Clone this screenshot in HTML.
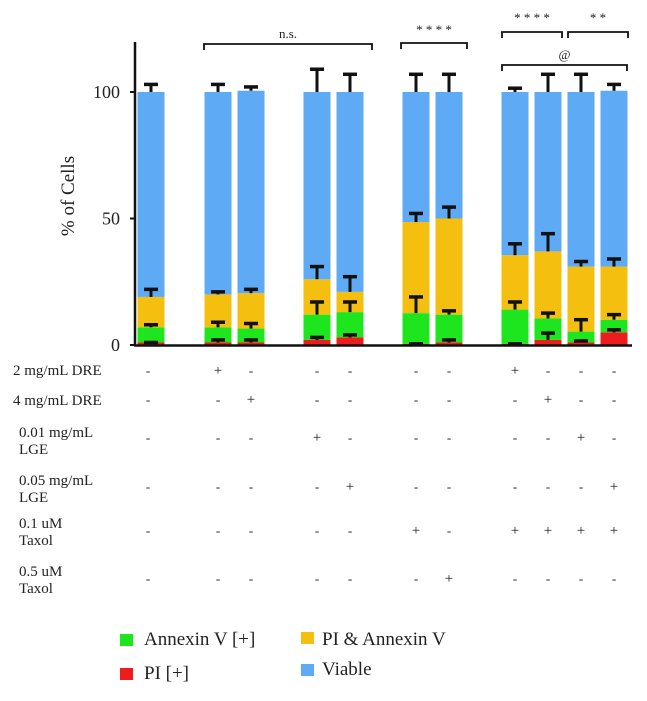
<!DOCTYPE html>
<html><head><meta charset="utf-8"><style>
body{margin:0;background:#fff;}
svg text{font-family:"Liberation Serif",serif;fill:#222;}
</style></head><body>
<svg id="chart" width="647" height="696" viewBox="0 0 647 696" xmlns="http://www.w3.org/2000/svg">
<g id="bars"></g>
<g id="axes"></g>
<g id="table"></g>
<g id="legend"></g>
</svg>
<script>
// data: cumulative tops of stacked segments (red, green, orange, blue) and error tops
const categories=["ctrl","dre2","dre4","lge001","lge005","tax01","tax05","dre2tax","dre4tax","lge001tax","lge005tax"];
const redTop=[1,1,1,2,3,0.5,1,0.5,2,1,5];
const greenTop=[7,7,6.5,12,13,12.6,12,14,10.5,5.3,10];
const orangeTop=[19,20,20.5,26,21,48.6,50,35.5,37,31,31];
const blueTop=[100,100,100.5,100,100,100,100,100,100,100,100.5];
const redErr=[1,2,2,3,4,0.5,2,0.5,4.7,1.6,6];
const greenErr=[8,9,8.5,17,17,19,13.5,17,12.6,10,12];
const orangeErr=[22,21,22,31,27,52,54.5,40,44,33,34];
const blueErr=[103,103,102,109,107,107,107,101.5,107,107,103];
const yTicks=[0,50,100];
const rowLabels=[["2 mg/mL DRE"],["4 mg/mL DRE"],["0.01 mg/mL","LGE"],["0.05 mg/mL","LGE"],["0.1 uM","Taxol"],["0.5 uM","Taxol"]];
const rowPlus=[[1,7],[2,8],[3,9],[4,10],[5,7,8,9,10],[6]];

const NS="http://www.w3.org/2000/svg";
const y0=345,pxPer=2.53;
const y=v=>y0-v*pxPer;
const centers=[151,218,251,317,350,416,449,515,548,581,614];
const xc=i=>centers[i];
const bw=27;
function mk(tag,attrs,parent){const e=document.createElementNS(NS,tag);for(const k in attrs)e.setAttribute(k,attrs[k]);parent.appendChild(e);return e;}
const gb=document.getElementById('bars');
const colors=["#ee1c1c","#1ee61e","#f5bf0f","#5eaaf5"];
const names=["pi-positive","annexin-positive","pi-annexin","viable"];
const series=[redTop,greenTop,orangeTop,blueTop];
const errs=[redErr,greenErr,orangeErr,blueErr];
categories.forEach((c,i)=>{
  let prev=0;
  series.forEach((s,k)=>{
    const r=mk('rect',{x:xc(i)-bw/2,y:y(s[i]),width:bw,height:y(prev)-y(s[i]),fill:colors[k]},gb);
    
    
    prev=s[i];
  });
  series.forEach((s,k)=>{
    const e=errs[k][i];
    const g=mk('g',{},gb);
    
    
    mk('line',{x1:xc(i),x2:xc(i),y1:y(s[i]),y2:y(e),stroke:"#111","stroke-width":3},g);
    mk('line',{x1:xc(i)-7,x2:xc(i)+7,y1:y(e),y2:y(e),stroke:"#111","stroke-width":3.5},g);
  });
});
const ga=document.getElementById('axes');
let l=mk('line',{x1:135,x2:135,y1:42,y2:346,stroke:"#111","stroke-width":2.5},ga);

l=mk('line',{x1:134,x2:632,y1:345.5,y2:345.5,stroke:"#111","stroke-width":2.5},ga);

yTicks.forEach(t=>{
  const tx=mk('text',{x:120,y:y(t)+6,"text-anchor":"end","font-size":18},ga);tx.textContent=t;
  
  mk('line',{x1:130,x2:135,y1:y(t),y2:y(t),stroke:"#111","stroke-width":2},ga);
});
let t=mk('text',{x:0,y:0,"text-anchor":"middle","font-size":19,transform:"translate(74,196) rotate(-90)"},ga);
t.textContent="% of Cells";
function bracket(x1,x2,yy,label,ly,name){
  const g=mk('g',{},ga);
  
  mk('path',{d:`M${x1} ${yy+6}V${yy}H${x2}V${yy+6}`,fill:"none",stroke:"#111","stroke-width":1.8},g);
  const tt=mk('text',{x:(x1+x2)/2,y:ly,"text-anchor":"middle","font-size":13,fill:"#444"},g);tt.textContent=label;
}
bracket(204,372,44,"n.s.",38,"bracket-ns");
bracket(401,467,43,"* * * *",34,"bracket-4star-taxol");
bracket(502,562,32,"* * * *",22,"bracket-4star-dre");
bracket(568,628,32,"* *",22,"bracket-2star-lge");
bracket(502,627,65,"@",59,"bracket-at");
const gt=document.getElementById('table');
const rowY=[[375],[405],[437,454],[485,502],[528,545],[576,593]];
const rowX=[13,13,19,19,19,19];
const markY=[370,399,437,486,530,578];
rowLabels.forEach((lab,r)=>{
  lab.forEach((s,j)=>{const tx=mk('text',{x:rowX[r],y:rowY[r][j],"font-size":15},gt);tx.textContent=s;
    });
  categories.forEach((c,i)=>{
    const plus=rowPlus[r].includes(i);
    const tx=mk('text',{x:xc(i)-(i==0?3:0),y:markY[r]+5,"text-anchor":"middle","font-size":plus?15:13,fill:plus?"#222":"#777"},gt);
    tx.textContent=plus?"+":"-";
    
  });
});
const gl=document.getElementById('legend');
[["Annexin V [+]",colors[1],120,634,144,645],["PI [+]",colors[0],120,668,144,679],["PI & Annexin V",colors[2],301,632,322,645],["Viable",colors[3],301,664,322,675]].forEach(d=>{
  const g=mk('g',{},gl);
  
  mk('rect',{x:d[2],y:d[3],width:13,height:12,fill:d[1]},g);
  const tx=mk('text',{x:d[4],y:d[5],"font-size":19},g);tx.textContent=d[0];
});
</script>
</body></html>
